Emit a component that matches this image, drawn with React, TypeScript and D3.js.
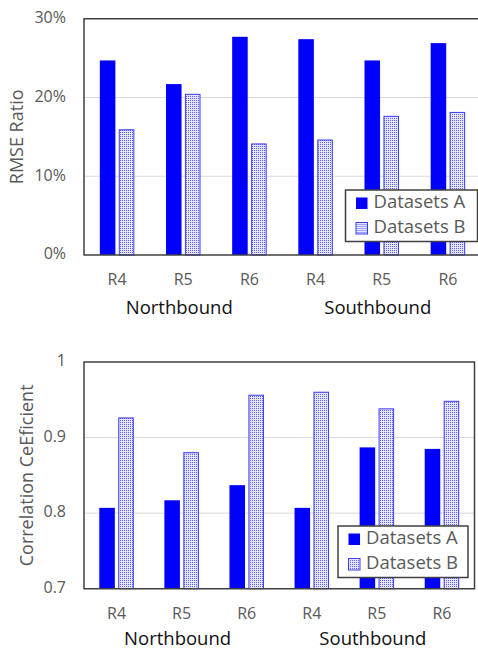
import React from "react";
import * as d3 from "d3";

const categories = ["R4", "R5", "R6", "R4", "R5", "R6"];
const groups = ["Northbound", "Southbound"];
const seriesNames = ["Datasets A", "Datasets B"];
const rmseA = [24.7, 21.7, 27.7, 27.4, 24.7, 26.9];
const rmseB = [15.9, 20.4, 14.1, 14.6, 17.6, 18.1];
const corrA = [0.807, 0.817, 0.837, 0.807, 0.887, 0.885];
const corrB = [0.926, 0.88, 0.956, 0.96, 0.938, 0.948];
const rmseTicks = [0, 10, 20, 30];
const corrTicks = [0.7, 0.8, 0.9, 1.0];

const FONT = "'Open Sans', 'Liberation Sans', sans-serif";
const GRAY = "#595959";
const BLUE = "#0000ff";

type ChartProps = {
  a: number[];
  b: number[];
  ticks: number[];
  fmt: (v: number) => string;
  title: string;
  top: number;
  bottom: number;
  left: number;
  right: number;
  titleX: number;
  groupDy: number;
  legend: { x: number; y: number; w: number; h: number };
  showRight: boolean;
};

function Chart(p: ChartProps) {
  const y = d3
    .scaleLinear()
    .domain([p.ticks[0], p.ticks[p.ticks.length - 1]])
    .range([p.bottom, p.top]);
  const x = d3
    .scaleBand<number>()
    .domain(categories.map((_, i) => i))
    .range([p.left, p.right]);
  const sub = d3
    .scaleBand<number>()
    .domain([0, 1])
    .range([-17.25, 17.25])
    .paddingInner(0.18);
  const series = [p.a, p.b];
  const cx = (i: number) => (x(i) as number) + x.bandwidth() / 2;
  const midY = (p.top + p.bottom) / 2;
  return (
    <g>
      {p.ticks.slice(1, -1).map((t) => (
        <line
          key={"g" + t}
          x1={p.left}
          x2={p.right}
          y1={y(t)}
          y2={y(t)}
          stroke="#d9d9d9"
          strokeWidth={1}
        />
      ))}
      {series.map((vals, s) =>
        vals.map((v, i) => (
          <rect
            key={s + "-" + i}
            x={cx(i) + (sub(s) as number) + (s === 1 ? 0.5 : 0)}
            y={y(v)}
            width={sub.bandwidth() - (s === 1 ? 1 : 0)}
            height={p.bottom - y(v)}
            fill={s === 0 ? BLUE : "url(#dots)"}
            stroke={s === 0 ? "none" : "#3b3bff"}
            strokeWidth={1}
          />
        ))
      )}
      <path
        d={
          p.showRight
            ? `M${p.left},${p.top}H${p.right}V${p.bottom}H${p.left}Z`
            : `M${p.right},${p.top}H${p.left}V${p.bottom}H${p.right}`
        }
        fill="none"
        stroke="#404040"
        strokeWidth={1.5}
      />
      {p.ticks.map((t) => (
        <text
          key={"t" + t}
          x={p.left - 18}
          y={y(t)}
          textAnchor="end"
          dominantBaseline="middle"
          fontSize={16}
          fill={GRAY}
          fontFamily={FONT}
        >
          {p.fmt(t)}
        </text>
      ))}
      {categories.map((c, i) => (
        <text
          key={"c" + i}
          x={cx(i)}
          y={p.bottom + 26}
          textAnchor="middle"
          dominantBaseline="middle"
          fontSize={16}
          fill={GRAY}
          fontFamily={FONT}
        >
          {c}
        </text>
      ))}
      {groups.map((g, gi) => (
        <text
          key={"grp" + g}
          x={(cx(gi * 3) + cx(gi * 3 + 2)) / 2 - 4}
          y={p.bottom + p.groupDy}
          textAnchor="middle"
          fontSize={18.5}
          fill="#111"
          fontFamily={FONT}
        >
          {g}
        </text>
      ))}
      <text
        transform={`translate(${p.titleX},${midY}) rotate(-90)`}
        textAnchor="middle"
        dominantBaseline="middle"
        fontSize={18}
        fill={GRAY}
        fontFamily={FONT}
      >
        {p.title}
      </text>
      <g transform={`translate(${p.legend.x},${p.legend.y})`}>
        <rect
          width={p.legend.w}
          height={p.legend.h}
          fill="#fff"
          stroke="#404040"
          strokeWidth={1.5}
        />
        {seriesNames.map((n, s) => (
          <g key={n} transform={`translate(10,${7 + s * 25})`}>
            <rect
              x={0.5}
              y={0.5}
              width={11.5}
              height={11.5}
              fill={s === 0 ? BLUE : "url(#dots)"}
              stroke={s === 0 ? "none" : "#3b3bff"}
            />
            <text
              x={18}
              y={6.5}
              dominantBaseline="middle"
              fontSize={18.5}
              fill={GRAY}
              fontFamily={FONT}
            >
              {n}
            </text>
          </g>
        ))}
      </g>
    </g>
  );
}

export default function App() {
  return (
    <svg
      width={478}
      height={650}
      style={{ position: "absolute", left: 0, top: 0, background: "#fff" }}
    >
      <defs>
        <pattern id="dots" width={2} height={2} patternUnits="userSpaceOnUse">
          <rect width={2} height={2} fill="#e6e6ff" />
          <rect width={1} height={1} fill="#5a5aff" />
        </pattern>
      </defs>
      <rect width={478} height={650} fill="#fff" />
      <Chart
        a={rmseA}
        b={rmseB}
        ticks={rmseTicks}
        fmt={(v) => v + "%"}
        title="RMSE Ratio"
        top={18.7}
        bottom={255}
        left={84}
        right={481}
        titleX={18.5}
        groupDy={59}
        legend={{ x: 345.5, y: 190, w: 132, h: 51.5 }}
        showRight={false}
      />
      <Chart
        a={corrA}
        b={corrB}
        ticks={corrTicks}
        fmt={(v) => (v === 1 ? "1" : String(v))}
        title="Correlation CeEficient"
        top={362}
        bottom={588.7}
        left={84}
        right={474.5}
        titleX={28}
        groupDy={56.5}
        legend={{ x: 338, y: 526, w: 130, h: 51.5 }}
        showRight={true}
      />
    </svg>
  );
}
